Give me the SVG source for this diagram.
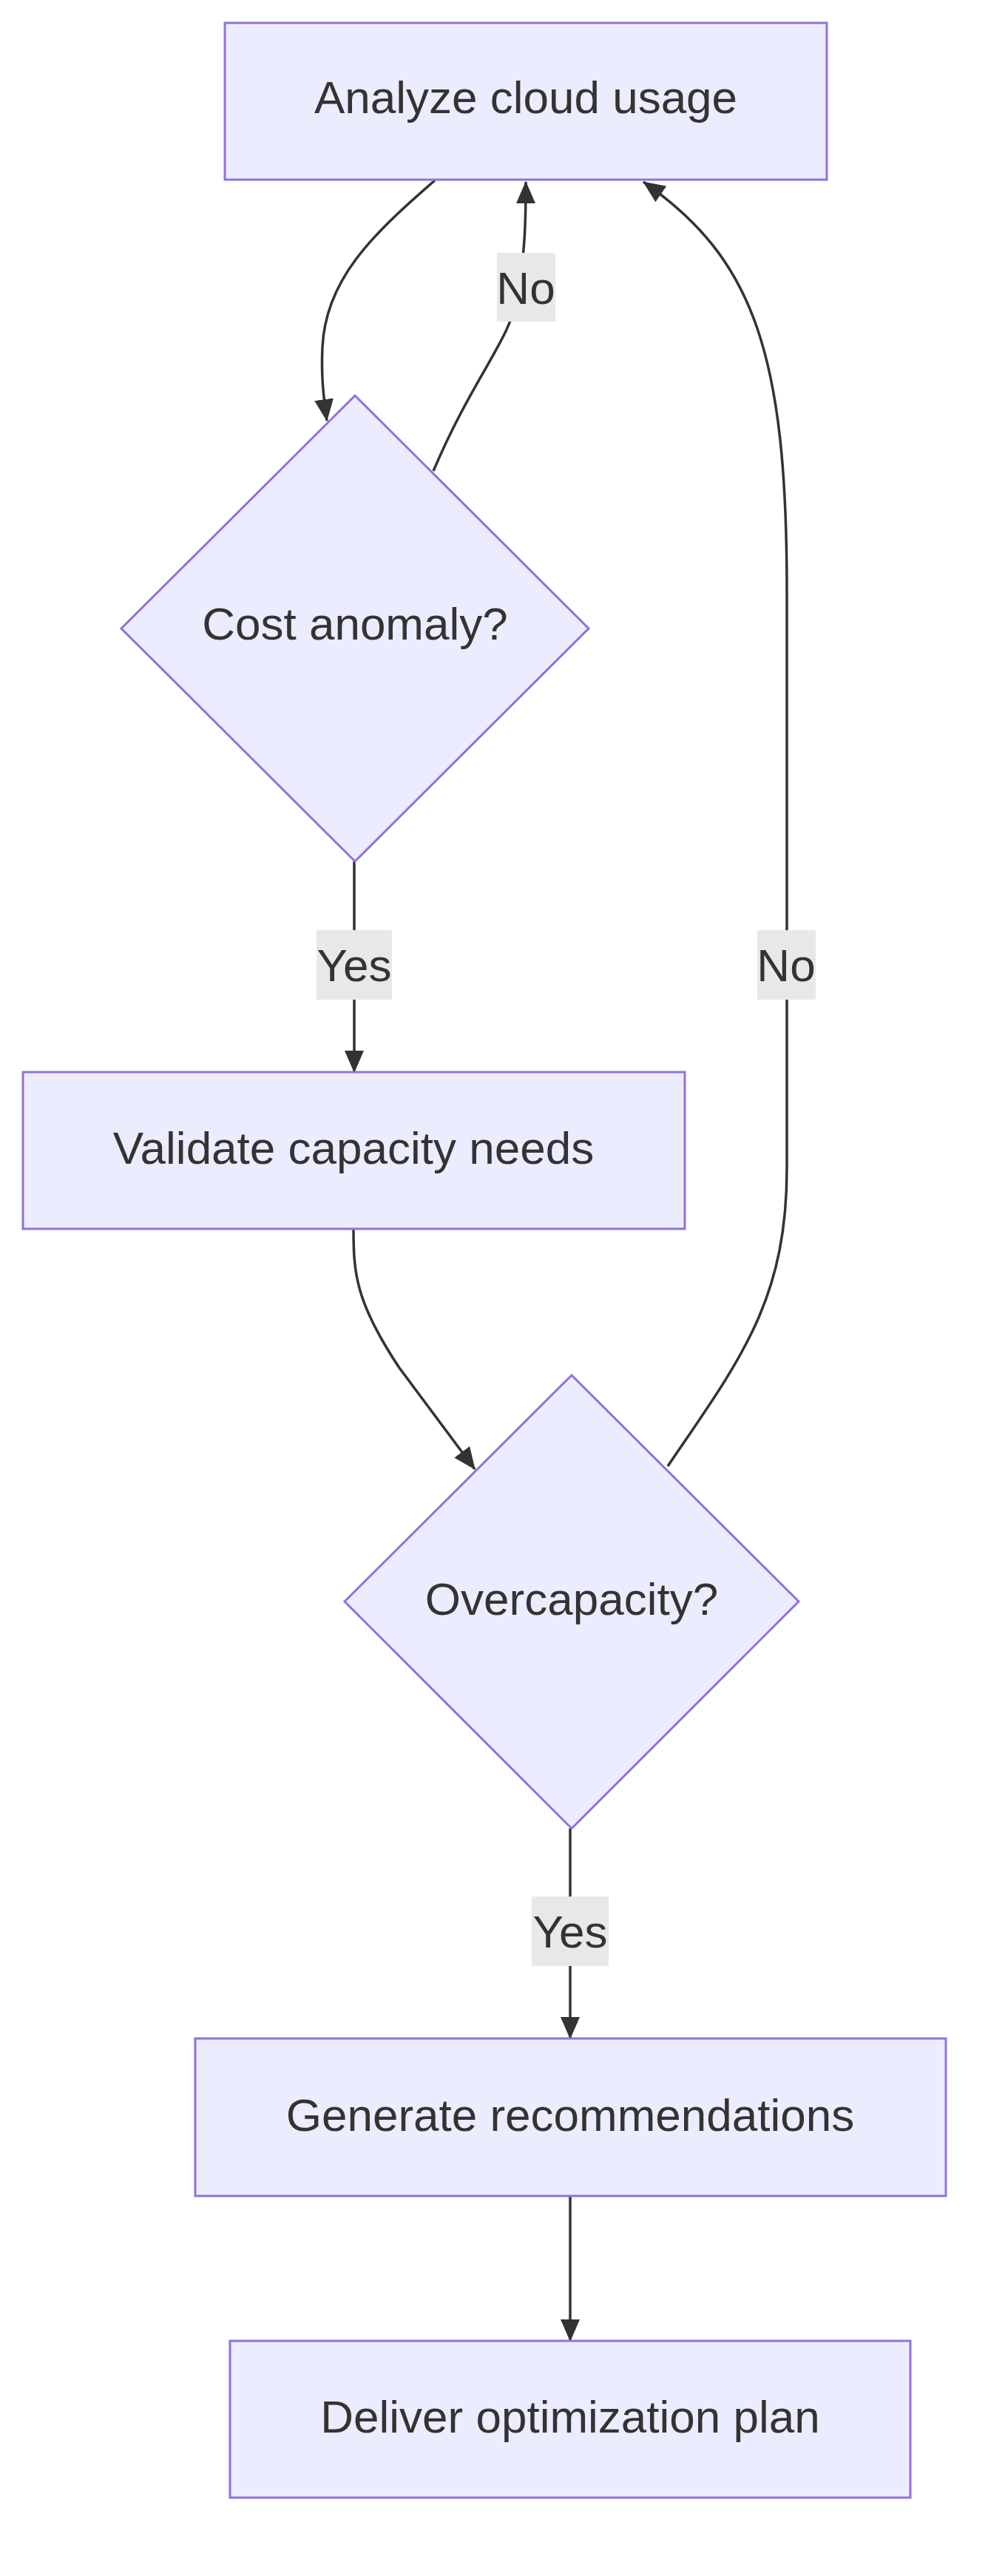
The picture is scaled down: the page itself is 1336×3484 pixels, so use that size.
<svg xmlns="http://www.w3.org/2000/svg" width="1336" height="3484" viewBox="0 0 1336 3484">
<style>
.n{fill:#ECECFF;stroke:#9370DB;stroke-width:3}
.t{font-family:"Liberation Sans",Arial,sans-serif;font-size:62px;fill:#333;text-anchor:middle;dominant-baseline:central}
.e{fill:none;stroke:#333;stroke-width:3.5}
.lb{fill:#E8E8E8}
</style>
<defs>
<marker id="ah" viewBox="0 0 10 10" refX="9" refY="5" markerWidth="10" markerHeight="10" markerUnits="userSpaceOnUse" orient="auto" overflow="visible">
<path d="M0,0 L10,5 L0,10 z" fill="#333" transform="scale(3)" transform-origin="10 5"/>
</marker>
<marker id="a" viewBox="0 0 30 30" refX="29" refY="15" markerWidth="30" markerHeight="30" markerUnits="userSpaceOnUse" orient="auto">
<path d="M0,2 L30,15 L0,28 z" fill="#333"/>
</marker>
</defs>
<g id="edges">
<path class="e" d="M588,244 C500,320 440,380 436,470 C434,510 438,540 442,569" marker-end="url(#a)"/>
<path class="e" d="M586,637 C640,510 690,460 700,400 C710,340 711,300 711,246" marker-end="url(#a)"/>
<path class="e" d="M903,1983 C1000,1840 1064,1760 1064,1580 L1064,800 C1064,480 1020,350 870,246" marker-end="url(#a)"/>
<path class="e" d="M479,1165 L479,1450" marker-end="url(#a)"/>
<path class="e" d="M478,1662 C478,1720 480,1760 540,1850 L642,1987" marker-end="url(#a)"/>
<path class="e" d="M771,2473 L771,2757" marker-end="url(#a)"/>
<path class="e" d="M771,2970 L771,3166" marker-end="url(#a)"/>
</g>
<g id="labels">
<rect class="lb" x="672" y="342" width="79" height="93"/><text class="t" x="711" y="389">No</text>
<rect class="lb" x="428" y="1258" width="102" height="94"/><text class="t" x="479" y="1305">Yes</text>
<rect class="lb" x="1024" y="1258" width="79" height="94"/><text class="t" x="1063" y="1305">No</text>
<rect class="lb" x="719" y="2565" width="104" height="94"/><text class="t" x="771" y="2612">Yes</text>
</g>
<g id="n1"><rect class="n" x="304" y="31" width="814" height="212"/><text class="t" x="711" y="131">Analyze cloud usage</text></g>
<g id="n2"><polygon class="n" points="480,535 796,850 480,1165 164,850"/><text class="t" x="480" y="843">Cost anomaly?</text></g>
<g id="n3"><rect class="n" x="31" y="1450" width="895" height="212"/><text class="t" x="478" y="1552">Validate capacity needs</text></g>
<g id="n4"><polygon class="n" points="773,1860 1080,2166 773,2473 466,2166"/><text class="t" x="773" y="2162">Overcapacity?</text></g>
<g id="n5"><rect class="n" x="264" y="2757" width="1015" height="213"/><text class="t" x="771" y="2860">Generate recommendations</text></g>
<g id="n6"><rect class="n" x="311" y="3166" width="920" height="212"/><text class="t" x="771" y="3268">Deliver optimization plan</text></g>
</svg>
